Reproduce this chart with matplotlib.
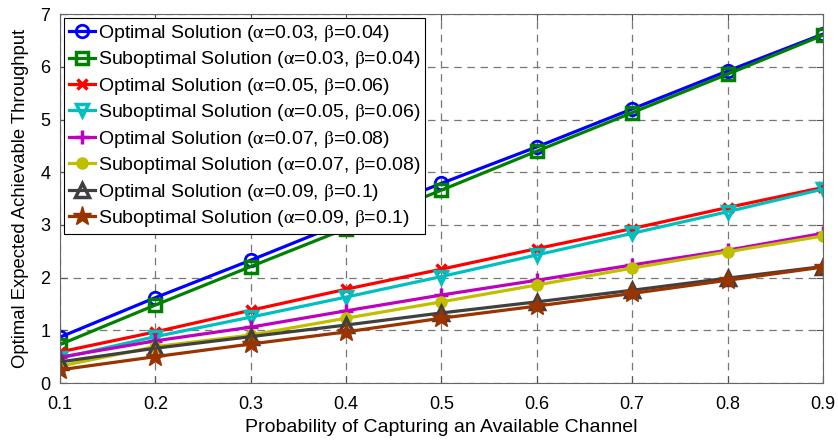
import matplotlib
matplotlib.use('Agg')
import matplotlib.pyplot as plt

plt.rcParams['font.family'] = 'Liberation Sans'
plt.rcParams['mathtext.fontset'] = 'stix'

# probability of capturing an available channel
p = [0.1, 0.2, 0.3, 0.4, 0.5, 0.6, 0.7, 0.8, 0.9]

opt_003 = [0.87, 1.62, 2.33, 3.06, 3.79, 4.48, 5.20, 5.92, 6.62]
sub_003 = [0.73, 1.48, 2.21, 2.93, 3.66, 4.40, 5.13, 5.86, 6.60]
opt_005 = [0.59, 0.97, 1.38, 1.78, 2.16, 2.55, 2.93, 3.33, 3.71]
sub_005 = [0.47, 0.88, 1.25, 1.63, 2.02, 2.43, 2.84, 3.25, 3.68]
opt_007 = [0.49, 0.80, 1.06, 1.37, 1.67, 1.95, 2.24, 2.52, 2.84]
sub_007 = [0.32, 0.69, 0.91, 1.23, 1.54, 1.86, 2.18, 2.49, 2.79]
opt_009 = [0.40, 0.66, 0.88, 1.10, 1.33, 1.54, 1.76, 1.99, 2.21]
sub_009 = [0.25, 0.50, 0.74, 0.97, 1.23, 1.46, 1.70, 1.95, 2.20]

labels = [r'Optimal Solution ($\mathrm{\alpha}$=0.03, $\mathrm{\beta}$=0.04)',
          r'Suboptimal Solution ($\mathrm{\alpha}$=0.03, $\mathrm{\beta}$=0.04)',
          r'Optimal Solution ($\mathrm{\alpha}$=0.05, $\mathrm{\beta}$=0.06)',
          r'Suboptimal Solution ($\mathrm{\alpha}$=0.05, $\mathrm{\beta}$=0.06)',
          r'Optimal Solution ($\mathrm{\alpha}$=0.07, $\mathrm{\beta}$=0.08)',
          r'Suboptimal Solution ($\mathrm{\alpha}$=0.07, $\mathrm{\beta}$=0.08)',
          r'Optimal Solution ($\mathrm{\alpha}$=0.09, $\mathrm{\beta}$=0.1)',
          r'Suboptimal Solution ($\mathrm{\alpha}$=0.09, $\mathrm{\beta}$=0.1)']

fig = plt.figure(figsize=(8.38, 4.41), dpi=100)
ax = fig.add_axes([0.0716, 0.1315, 0.9104, 0.8365])

lw = 2.3
ax.plot(p, opt_003, color='#0000ff', marker='o', ms=9, mfc='none', mew=2, lw=lw, label=labels[0])
ax.plot(p, sub_003, color='#008000', marker='s', ms=8, mfc='none', mew=2.5, lw=lw, label=labels[1])
ax.plot(p, opt_005, color='#ff0000', marker='x', ms=7, mew=2.5, lw=lw, label=labels[2])
ax.plot(p, sub_005, color='#00bfbf', marker='v', ms=9, mfc='none', mew=2.5, lw=lw, label=labels[3])
ax.plot(p, opt_007, color='#bf00bf', marker='+', ms=10, mew=2.5, lw=lw, label=labels[4])
ax.plot(p, sub_007, color='#bfbf00', marker='o', ms=8, lw=lw, label=labels[5])
ax.plot(p, opt_009, color='#404040', marker='^', ms=10, mfc='none', mew=2.5, lw=lw, label=labels[6])
ax.plot(p, sub_009, color='#993300', marker='*', ms=14, lw=lw, label=labels[7])

ax.set_xlim(0.1, 0.9)
ax.set_ylim(0, 7)
ax.set_xticks(p)
ax.set_yticks(range(8))
ax.tick_params(direction='in', labelsize=13, top=True, right=True, color='#555555', length=5)
ax.tick_params(axis='x', pad=9)
ax.tick_params(axis='y', pad=7)
for s in ax.spines.values():
    s.set_color('#666666')
ax.grid(True, linestyle=(0, (6, 4.5)), color='#777777', linewidth=0.9)
ax.set_xlabel('Probability of Capturing an Available Channel', fontsize=14, labelpad=5)
ax.set_ylabel('Optimal Expected Achievable Throughput', fontsize=13.3, labelpad=8)

leg = ax.legend(loc='upper left', fontsize=14, handlelength=1.35, handletextpad=0.15,
                labelspacing=0.28, borderpad=0.25, borderaxespad=0.2, fancybox=False,
                framealpha=1, edgecolor='black')
leg.get_frame().set_linewidth(0.8)

fig.savefig('out.png', dpi=100)
